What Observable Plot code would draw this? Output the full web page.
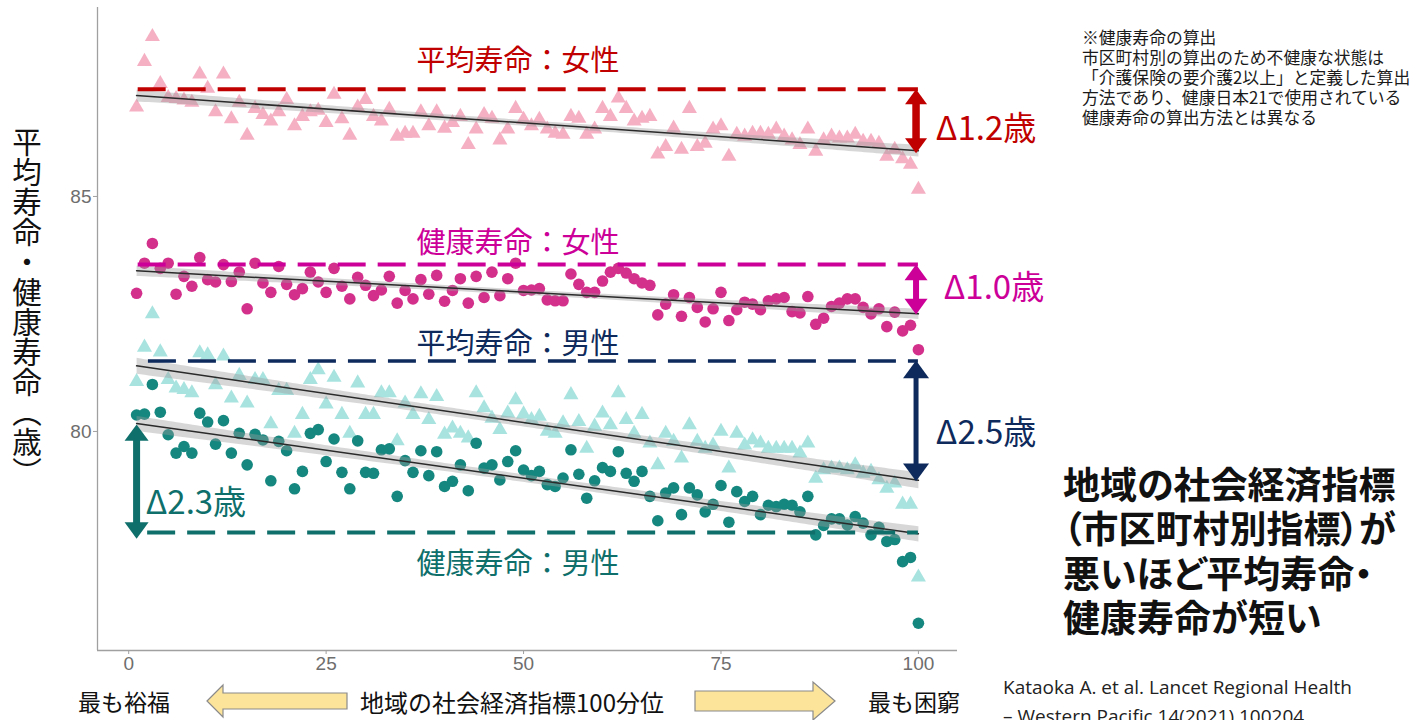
<!DOCTYPE html>
<html>
<head>
<meta charset="utf-8">
<script src="https://cdn.jsdelivr.net/npm/d3@7"></script>
<script src="https://cdn.jsdelivr.net/npm/@observablehq/plot@0.6"></script>
<style>
  html, body { margin: 0; padding: 0; background: #fff; }
  #chart svg { display: block; }
</style>
</head>
<body>
<div id="chart"></div>
<script>
// ---- data ----
// x: municipality socioeconomic-index percentile (1 = most affluent … 100 = most deprived)
const percentile = Array.from({length: 100}, (_, i) => i + 1);

// 平均寿命：女性 (pink triangles)
const lifeF = [86.9,87.87,88.4,87.4,87.1,87.08,87.05,87.0,87.6,87.3,86.8,87.6,86.65,87.0,86.3,86.87,86.74,86.6,86.8,87.06,
  86.5,86.7,86.8,86.83,86.57,87.17,86.65,86.3,86.9,87.06,86.7,86.6,86.85,86.28,86.34,86.34,86.8,86.5,86.8,86.45,
  86.57,86.7,86.1,86.43,86.74,86.66,86.2,86.43,86.87,86.64,86.5,86.64,86.43,86.34,86.32,86.7,86.66,86.32,86.43,86.87,
  86.7,87.09,86.87,86.6,86.66,86.7,85.9,86.06,86.45,86.0,86.87,86.06,86.13,86.43,86.5,85.85,86.32,86.28,86.34,86.34,
  86.32,86.43,86.28,86.2,86.1,86.43,85.96,86.2,86.28,86.24,86.24,86.32,86.17,86.17,86.13,85.85,86.0,85.8,85.68,85.15];

// 健康寿命：女性 (magenta circles)
const healthF = [82.94,83.58,84.0,83.47,83.58,82.92,83.3,83.09,83.7,83.23,83.18,83.55,83.19,83.39,82.61,83.58,83.16,82.96,83.51,83.13,
  82.91,83.04,83.39,83.18,82.96,83.47,83.09,82.82,83.28,83.11,82.89,83.01,83.3,82.73,83.0,82.82,83.23,82.92,83.32,82.77,
  83.0,83.25,82.73,83.3,82.85,83.39,82.89,83.25,83.58,83.0,83.01,83.04,82.8,82.78,82.78,83.35,83.13,82.96,82.96,83.2,
  83.39,83.47,83.37,83.25,83.16,83.11,82.48,82.71,82.91,82.45,82.85,82.64,82.33,82.61,82.96,82.36,82.59,82.75,82.71,82.59,
  82.78,82.82,82.85,82.55,82.52,82.87,82.28,82.41,82.66,82.73,82.82,82.82,82.64,82.5,82.61,82.23,82.54,82.14,82.26,81.74];

// 平均寿命：男性 (light cyan triangles)
const lifeM = [81.06,81.79,82.5,81.69,81.1,80.92,80.89,80.82,81.67,81.63,80.99,81.6,80.71,81.19,80.6,81.1,81.1,80.16,80.87,80.87,
  79.96,80.36,81.1,81.31,80.58,81.15,80.36,79.96,81.03,80.36,80.36,80.82,80.82,79.8,80.6,80.36,80.8,80.25,80.74,79.94,
  80.07,79.96,79.86,80.82,80.5,80.28,80.04,80.39,80.67,80.37,80.25,80.32,80.0,79.96,80.18,80.78,80.21,79.64,80.11,80.39,
  80.14,80.82,80.25,79.96,80.36,79.75,79.29,79.96,79.79,79.43,80.14,79.79,79.64,79.71,80.0,79.22,79.96,79.71,79.82,79.75,
  79.64,79.64,79.64,79.64,79.54,79.75,79.0,79.18,79.22,79.22,79.18,79.29,79.11,79.15,78.97,78.79,78.9,78.45,78.45,76.9];

// 健康寿命：男性 (teal circles)
const healthM = [80.35,80.37,81.0,80.41,79.93,79.54,79.68,79.54,80.39,80.2,79.73,80.23,79.54,79.96,79.29,79.94,79.82,78.95,79.79,79.59,
  78.78,79.15,79.96,80.04,79.36,79.84,79.13,78.78,79.8,79.13,79.11,79.61,79.63,78.62,79.38,79.13,79.59,79.06,79.57,78.83,
  78.94,79.29,78.74,79.75,79.22,79.29,78.97,79.36,79.59,79.18,79.06,79.15,78.87,78.83,79.01,79.61,79.09,78.58,78.95,79.23,
  79.15,79.57,79.11,78.94,79.15,78.62,78.1,78.69,78.8,78.23,78.8,78.65,78.29,78.45,78.85,78.07,78.72,78.51,78.62,78.23,
  78.43,78.4,78.45,78.43,78.29,78.62,77.8,78.0,78.14,78.14,78.01,78.19,78.05,77.8,77.96,77.66,77.7,77.23,77.32,75.92];

const seriesLabels = ["平均寿命：女性", "健康寿命：女性", "平均寿命：男性", "健康寿命：男性"];
const dashedLevels = [87.28, 83.55, 81.50, 77.85];          // dashed reference lines (years)
const gapTop = [87.28, 83.55, 81.51, 80.15];                // arrow ends (years)
const gapBottom = [85.92, 82.49, 78.94, 77.72];
const gapLabels = ["Δ1.2歳", "Δ1.0歳", "Δ2.5歳", "Δ2.3歳"];
const xTicks = [0, 25, 50, 75, 100];
const yTicks = [80, 85];
const yTitle = "平均寿命・健康寿命（歳）";
const xLeftLabel = "最も裕福";
const xCenterLabel = "地域の社会経済指標100分位";
const xRightLabel = "最も困窮";
const noteLines = ["※健康寿命の算出", "市区町村別の算出のため不健康な状態は", "「介護保険の要介護2以上」と定義した算出",
  "方法であり、健康日本21で使用されている", "健康寿命の算出方法とは異なる"];
const headlineLines = ["地域の社会経済指標", "（市区町村別指標）が", "悪いほど平均寿命・", "健康寿命が短い"];
const citationLines = ["Kataoka A. et al. Lancet Regional Health", "– Western Pacific 14(2021) 100204"];

// ---- build ----
const rows = vals => percentile.map((x, i) => ({x, y: vals[i]}));
const dLifeF = rows(lifeF), dHealthF = rows(healthF), dLifeM = rows(lifeM), dHealthM = rows(healthM);

const C = {
  red: "#c00000", magenta: "#cc0099", navy: "#0e2a5c", teal: "#0e6f6b",
  pinkTri: "#f5b0c4", magDot: "#d3308c", cyanTri: "#a8e3e0", tealDot: "#15877f"
};
const CJK = "'Noto Sans CJK JP', sans-serif";

// arrow-head symbol with its apex at the origin
const head = {
  draw(ctx, size) {
    const r = Math.sqrt(size / Math.PI);
    ctx.moveTo(0, 0); ctx.lineTo(-r, r * 1.36); ctx.lineTo(r, r * 1.36); ctx.closePath();
  }
};
function doubleArrow(i, xPos, color, width, r) {
  return [
    Plot.ruleX([xPos], {y1: gapTop[i], y2: gapBottom[i], stroke: color, strokeWidth: width, insetTop: 8, insetBottom: 8}),
    Plot.dot([0], {x: xPos, y: gapTop[i], symbol: head, r, fill: color, rotate: 0}),
    Plot.dot([0], {x: xPos, y: gapBottom[i], symbol: head, r, fill: color, rotate: 180})
  ];
}

const xDomain = [-3.95, 104.95], yDomain = [75.34, 89.02];
const reg = {stroke: "#2a2a2a", strokeWidth: 1.5, fill: "#9a9a9a", fillOpacity: 0.4};

const svgNode = Plot.plot({
  width: 1426, height: 720,
  marginLeft: 97, marginRight: 469, marginTop: 7, marginBottom: 70,
  x: {domain: xDomain},
  y: {domain: yDomain},
  style: {background: "#fff", fontFamily: "'Liberation Sans', Arial, sans-serif", fontSize: "19px"},
  marks: [
    Plot.axisY({ticks: yTicks, tickSize: 4, tickPadding: 2, fontSize: 19, stroke: "#a0a0a0", fill: "#6e6e6e", label: null}),
    Plot.axisX({ticks: xTicks, tickSize: 4, tickPadding: 2, fontSize: 19, stroke: "#a0a0a0", fill: "#6e6e6e", label: null}),
    Plot.ruleX([xDomain[0]], {stroke: "#a0a0a0", strokeWidth: 1.3}),
    Plot.ruleY([yDomain[0]], {stroke: "#a0a0a0", strokeWidth: 1.3}),

    Plot.dot(dLifeF, {x: "x", y: "y", symbol: "triangle", r: 5.6, fill: C.pinkTri}),
    Plot.dot(dLifeM, {x: "x", y: "y", symbol: "triangle", r: 5.6, fill: C.cyanTri}),
    Plot.dot(dHealthF, {x: "x", y: "y", r: 5.8, fill: C.magDot}),
    Plot.dot(dHealthM, {x: "x", y: "y", r: 5.8, fill: C.tealDot}),

    Plot.linearRegressionY(dLifeF, {x: "x", y: "y", ...reg}),
    Plot.linearRegressionY(dHealthF, {x: "x", y: "y", ...reg}),
    Plot.linearRegressionY(dLifeM, {x: "x", y: "y", ...reg}),
    Plot.linearRegressionY(dHealthM, {x: "x", y: "y", ...reg}),

    Plot.ruleY([dashedLevels[0]], {x1: 1.2, x2: 100, stroke: C.red, strokeWidth: 4, strokeDasharray: "28,12"}),
    Plot.ruleY([dashedLevels[1]], {x1: 1.2, x2: 100, stroke: C.magenta, strokeWidth: 4, strokeDasharray: "28,12"}),
    Plot.ruleY([dashedLevels[2]], {x1: 2.5, x2: 100, stroke: C.navy, strokeWidth: 3.5, strokeDasharray: "28,12"}),
    Plot.ruleY([dashedLevels[3]], {x1: 2.4, x2: 100, stroke: C.teal, strokeWidth: 4, strokeDasharray: "28,12"}),

    ...doubleArrow(0, 99.7, C.red, 7.5, 11),
    ...doubleArrow(1, 99.7, C.magenta, 6, 11.5),
    ...doubleArrow(2, 99.7, C.navy, 5, 13),
    ...doubleArrow(3, 1.0, C.teal, 7, 12),

    Plot.text([seriesLabels[0]], {x: 49.3, y: 87.87, text: d => d, fill: C.red, fontSize: 29, fontFamily: CJK}),
    Plot.text([seriesLabels[1]], {x: 49.3, y: 84.0, text: d => d, fill: C.magenta, fontSize: 29, fontFamily: CJK}),
    Plot.text([seriesLabels[2]], {x: 49.3, y: 81.85, text: d => d, fill: C.navy, fontSize: 29, fontFamily: CJK}),
    Plot.text([seriesLabels[3]], {x: 49.3, y: 77.17, text: d => d, fill: C.teal, fontSize: 29, fontFamily: CJK}),

    Plot.text([gapLabels[0]], {x: 102.2, y: 86.43, text: d => d, fill: C.red, fontSize: 33, textAnchor: "start", fontFamily: CJK}),
    Plot.text([gapLabels[1]], {x: 103.2, y: 83.04, text: d => d, fill: C.magenta, fontSize: 33, textAnchor: "start", fontFamily: CJK}),
    Plot.text([gapLabels[2]], {x: 102.2, y: 79.96, text: d => d, fill: C.navy, fontSize: 33, textAnchor: "start", fontFamily: CJK}),
    Plot.text([gapLabels[3]], {x: 2.15, y: 78.47, text: d => d, fill: C.teal, fontSize: 33, textAnchor: "start", fontFamily: CJK})
  ]
});

document.getElementById("chart").appendChild(svgNode);
const svg = d3.select(svgNode);
const overlay = svg.append("g").attr("text-anchor", "start");

// vertical y-axis title
overlay.append("text")
  .attr("x", 27).attr("y", 127)
  .attr("text-anchor", "start")
  .style("writing-mode", "vertical-rl")
  .style("letter-spacing", "0.5px")
  .attr("font-family", CJK).attr("font-size", 29.5).attr("fill", "#111")
  .text(yTitle);

// bottom row: labels and block arrows
const bottomY = 701;
overlay.append("text").attr("x", 78).attr("y", bottomY).attr("dominant-baseline", "central")
  .attr("font-family", CJK).attr("font-size", 23).attr("fill", "#111").text(xLeftLabel);
overlay.append("text").attr("x", 360).attr("y", bottomY).attr("dominant-baseline", "central")
  .attr("font-family", CJK).attr("font-size", 24).attr("fill", "#111").text(xCenterLabel);
overlay.append("text").attr("x", 868).attr("y", bottomY).attr("dominant-baseline", "central")
  .attr("font-family", CJK).attr("font-size", 23).attr("fill", "#111").text(xRightLabel);

const leftArrow = `M207,${bottomY} L223,${bottomY-16} L223,${bottomY-8} L347,${bottomY-8} L347,${bottomY+8} L223,${bottomY+8} L223,${bottomY+16} Z`;
const rightArrow = `M835,${bottomY} L813,${bottomY-19} L813,${bottomY-10} L695,${bottomY-10} L695,${bottomY+10} L813,${bottomY+10} L813,${bottomY+19} Z`;
[leftArrow, rightArrow].forEach(d => overlay.append("path").attr("d", d)
  .attr("fill", "#fde49b").attr("stroke", "#8a8a8a").attr("stroke-width", 1.2));

// note (top right)
const notes = overlay.append("text").attr("font-family", CJK).attr("font-size", 16.8).attr("fill", "#1a1a1a");
noteLines.forEach((t, i) => notes.append("tspan").attr("x", 1082).attr("y", 37 + i * 20)
  .attr("dominant-baseline", "central").text(t));

// headline (bottom right)
const hl = overlay.append("text").attr("font-family", CJK).attr("font-size", 37).attr("font-weight", 700)
  .attr("fill", "#111").style("font-feature-settings", "'palt'");
headlineLines.forEach((t, i) => hl.append("tspan").attr("x", 1063).attr("y", 483 + i * 44.3)
  .attr("dominant-baseline", "central").text(t));

// citation (second line is cut by the bottom edge, as in the reference)
const cit = overlay.append("text").attr("font-family", "'Open Sans', sans-serif").attr("font-size", 19).attr("fill", "#222");
citationLines.forEach((t, i) => cit.append("tspan").attr("x", 1003).attr("y", 687 + i * 29)
  .attr("dominant-baseline", "central").text(t));
</script>
</body>
</html>
